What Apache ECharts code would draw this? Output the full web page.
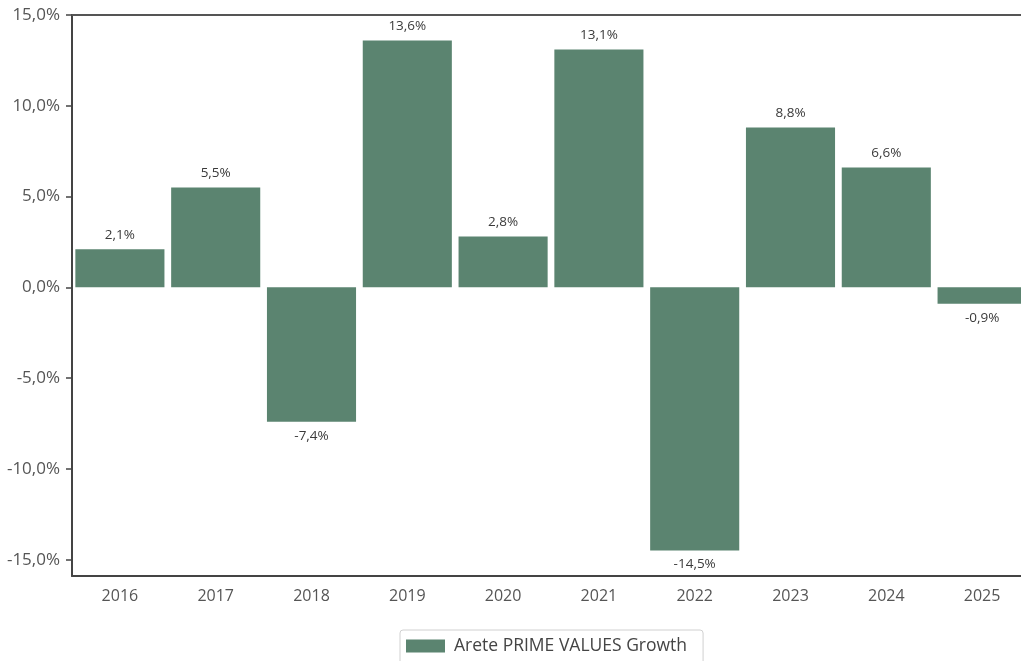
<!DOCTYPE html>
<html><head><meta charset="utf-8">
<script src="https://cdn.jsdelivr.net/npm/echarts@6/dist/echarts.min.js"></script>
<style>html,body{margin:0;padding:0;background:#fff}#c{width:1021px;height:661px}</style>
</head><body><div id="c"></div>
<script>
const categories = ['2016','2017','2018','2019','2020','2021','2022','2023','2024','2025'];
const growth = [2.1, 5.5, -7.4, 13.6, 2.8, 13.1, -14.5, 8.8, 6.6, -0.9];
const yTicks = [-15, -10, -5, 0, 5, 10, 15];
const seriesName = 'Arete PRIME VALUES Growth';

const fmt = v => v.toFixed(1).replace('.', ',') + '%';
const font = '"Open Sans", "Noto Sans", sans-serif';
const chart = echarts.init(document.getElementById('c'));
chart.setOption({
  animation: false,
  textStyle: { fontFamily: font },
  grid: { left: 72, width: 958, top: 15, bottom: 85, containLabel: false, outerBoundsMode: 'none' },
  legend: {
    top: 630, left: 400,
    data: [{ name: seriesName, icon: 'rect' }],
    itemWidth: 39, itemHeight: 13,
    borderColor: '#d0d0d0', borderWidth: 1, borderRadius: 3,
    padding: [7, 16, 12, 6],
    textStyle: { fontSize: 17.5, color: '#444', fontFamily: font, padding: [0, 0, 0, 4] }
  },
  xAxis: [{
    type: 'category', data: categories, position: 'bottom',
    axisLine: { onZero: false, lineStyle: { color: '#444', width: 2 } },
    axisTick: { alignWithLabel: true, length: 5, lineStyle: { color: '#444', width: 1.5 } },
    axisLabel: { fontSize: 16, color: '#555', margin: 12 }
  }, {
    type: 'category', data: categories, position: 'top',
    axisLine: { onZero: false, lineStyle: { color: '#555', width: 2 } },
    axisTick: { show: false }, axisLabel: { show: false }
  }],
  yAxis: {
    type: 'value', min: -15.9, max: 15,
    axisLine: { show: true, lineStyle: { color: '#444', width: 2 } },
    axisTick: { show: true, length: 6, customValues: yTicks, lineStyle: { color: '#444', width: 1.5 } },
    axisLabel: { fontSize: 17, color: '#555', margin: 12, customValues: yTicks, formatter: v => fmt(v) },
    splitLine: { show: false }
  },
  series: [{
    name: seriesName, type: 'bar',
    data: growth.map(v => v < 0 ? { value: v, label: { position: 'bottom' } } : v),
    barCategoryGap: '7%',
    itemStyle: { color: '#5b8470' },
    label: {
      show: true, fontSize: 13.5, color: '#3a3a3a', fontFamily: font,
      position: 'top', distance: 7,
      formatter: p => fmt(p.value)
    }
  }]
});
</script></body></html>
